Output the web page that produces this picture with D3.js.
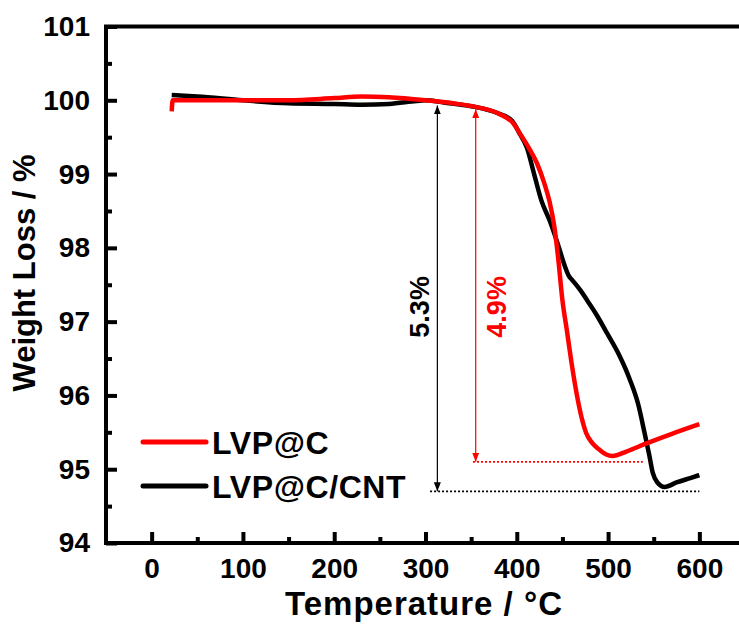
<!DOCTYPE html>
<html>
<head>
<meta charset="utf-8">
<script src="https://cdn.jsdelivr.net/npm/d3@7"></script>
<style>
  body { margin: 0; background: #fff; }
  text { font-family: "Liberation Sans", Arial, sans-serif; font-weight: bold; }
</style>
</head>
<body>
<div id="chart"></div>
<script>
// LVP@C
const redT = [22, 23, 50, 100, 150, 200, 230, 260, 300, 330, 355, 380, 396, 405, 413, 422, 430, 436, 441, 445, 450, 455, 460, 467, 471, 476, 483, 491, 498, 505, 520, 542, 570, 600];
const redW = [99.85, 100.0, 100.0, 100.0, 100.0, 100.03, 100.05, 100.04, 100.0, 99.96, 99.91, 99.82, 99.69, 99.52, 99.36, 99.15, 98.88, 98.62, 98.3, 97.9, 97.29, 96.87, 96.44, 95.93, 95.7, 95.49, 95.35, 95.26, 95.2, 95.18, 95.24, 95.35, 95.48, 95.61];
// LVP@C/CNT
const blackT = [22, 50, 100, 150, 200, 230, 260, 290, 300, 320, 350, 380, 395, 403, 411, 419, 427, 436, 445, 453, 457, 461, 470, 477, 488, 499, 512, 524, 533, 540, 545, 549, 554, 562, 575, 590, 600];
const blackW = [100.07, 100.05, 100.0, 99.96, 99.95, 99.94, 99.95, 99.99, 100.0, 99.97, 99.92, 99.82, 99.72, 99.55, 99.36, 99.0, 98.64, 98.37, 98.05, 97.74, 97.62, 97.56, 97.42, 97.29, 97.08, 96.84, 96.55, 96.21, 95.88, 95.49, 95.2, 94.95, 94.82, 94.76, 94.82, 94.88, 94.92];

const xTicks = [0, 100, 200, 300, 400, 500, 600];
const xMinor = [50, 150, 250, 350, 450, 550, 650];
const yTicks = [94, 95, 96, 97, 98, 99, 100, 101];
const yMinor = [94.5, 95.5, 96.5, 97.5, 98.5, 99.5, 100.5];

const width = 739;
const height = 628;
const margin = { top: 26.5, right: -6, bottom: 85, left: 106 };

const svg = d3.select("#chart")
  .append("svg")
  .attr("width", width)
  .attr("height", height);

const x = d3.scaleLinear()
  .domain([-50, 650])
  .range([margin.left, width - margin.right]);

const y = d3.scaleLinear()
  .domain([94, 101])
  .range([height - margin.bottom, margin.top]);

// arrow heads
const defs = svg.append("defs");
[["arrBlack", "#000"], ["arrRed", "#ff0000"]].forEach(([id, c]) => {
  defs.append("marker")
    .attr("id", id)
    .attr("markerUnits", "userSpaceOnUse")
    .attr("markerWidth", 9)
    .attr("markerHeight", 7)
    .attr("refX", 9)
    .attr("refY", 3.5)
    .attr("orient", "auto-start-reverse")
    .append("path")
    .attr("d", "M0,0L9,3.5L0,7Z")
    .attr("fill", c);
});

// ticks (inward)
const tickStyle = g => {
  g.select(".domain").remove();
  g.selectAll(".tick line").attr("stroke", "#000").attr("stroke-width", 4);
  g.selectAll(".tick text").attr("font-size", 28).attr("fill", "#000");
};

svg.append("g")
  .attr("transform", `translate(0,${y(94)})`)
  .call(d3.axisBottom(x).tickValues(xTicks).tickSize(-11).tickPadding(15).tickFormat(d3.format("d")))
  .call(tickStyle);

svg.append("g")
  .attr("transform", `translate(0,${y(94)})`)
  .call(d3.axisBottom(x).tickValues(xMinor).tickSize(-6).tickFormat(""))
  .call(tickStyle);

svg.append("g")
  .attr("transform", `translate(${x(-50)},0)`)
  .call(d3.axisLeft(y).tickValues(yTicks).tickSize(-11).tickPadding(16).tickFormat(d3.format("d")))
  .call(tickStyle);

svg.append("g")
  .attr("transform", `translate(${x(-50)},0)`)
  .call(d3.axisLeft(y).tickValues(yMinor).tickSize(-6).tickFormat(""))
  .call(tickStyle);

// frame
svg.append("rect")
  .attr("x", x(-50))
  .attr("y", y(101))
  .attr("width", x(650) - x(-50))
  .attr("height", y(94) - y(101))
  .attr("fill", "none")
  .attr("stroke", "#000")
  .attr("stroke-width", 4);

// annotations
const annot = [
  { t: 313, top: 99.93, bot: 94.7, d0: 305, d1: 600, c: "#000", m: "arrBlack", label: "5.3%", lt: 294 },
  { t: 355, top: 99.88, bot: 95.1, d0: 352, d1: 538, c: "#ff0000", m: "arrRed", label: "4.9%", lt: 378 }
];

annot.forEach(a => {
  svg.append("line")
    .attr("x1", x(a.d0)).attr("x2", x(a.d1))
    .attr("y1", y(a.bot)).attr("y2", y(a.bot))
    .attr("stroke", a.c)
    .attr("stroke-width", 1.6)
    .attr("stroke-dasharray", "2,2");

  svg.append("line")
    .attr("x1", x(a.t)).attr("x2", x(a.t))
    .attr("y1", y(a.top)).attr("y2", y(a.bot))
    .attr("stroke", a.c)
    .attr("stroke-width", 1.2)
    .attr("marker-start", `url(#${a.m})`)
    .attr("marker-end", `url(#${a.m})`);

  svg.append("text")
    .attr("transform", `translate(${x(a.lt) + 9},${y(97.2)}) rotate(-90)`)
    .attr("text-anchor", "middle")
    .attr("font-size", 27)
    .attr("fill", a.c)
    .text(a.label);
});

// curves
const line = d3.line()
  .x(d => x(d[0]))
  .y(d => y(d[1]))
  .curve(d3.curveMonotoneX);

svg.append("path")
  .datum(blackT.map((t, i) => [t, blackW[i]]))
  .attr("fill", "none")
  .attr("stroke", "#000")
  .attr("stroke-width", 4.5)
  .attr("d", line);

svg.append("path")
  .datum(redT.map((t, i) => [t, redW[i]]))
  .attr("fill", "none")
  .attr("stroke", "#ff0000")
  .attr("stroke-width", 4.5)
  .attr("d", line);

// legend
const legend = [["LVP@C", "#ff0000", 442], ["LVP@C/CNT", "#000", 486]];
legend.forEach(([name, c, ly]) => {
  svg.append("line")
    .attr("x1", 143).attr("x2", 206)
    .attr("y1", ly).attr("y2", ly)
    .attr("stroke", c)
    .attr("stroke-width", 5)
    .attr("stroke-linecap", "round");
  svg.append("text")
    .attr("x", 212)
    .attr("y", ly)
    .attr("dy", "0.36em")
    .attr("font-size", 32)
    .attr("letter-spacing", 0.6)
    .attr("fill", "#000")
    .text(name);
});

// axis titles
svg.append("text")
  .attr("x", 424)
  .attr("y", 615)
  .attr("text-anchor", "middle")
  .attr("font-size", 33)
  .attr("letter-spacing", 1)
  .text("Temperature / °C");

svg.append("text")
  .attr("transform", `translate(35,273) rotate(-90)`)
  .attr("text-anchor", "middle")
  .attr("font-size", 31)
  .text("Weight Loss / %");
</script>
</body>
</html>
